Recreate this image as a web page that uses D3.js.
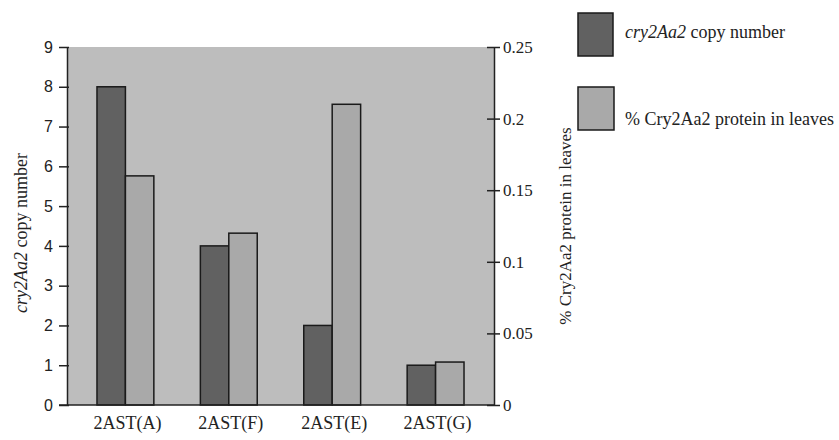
<!DOCTYPE html>
<html>
<head>
<meta charset="utf-8">
<script src="https://cdn.jsdelivr.net/npm/d3@7"></script>
<style>
  body { margin: 0; background: #fff; }
  svg { display: block; }
</style>
</head>
<body>
<div id="chart"></div>
<script>
const lines = ['2AST(A)', '2AST(F)', '2AST(E)', '2AST(G)'];
const copyNumber = [8, 4, 2, 1];
const proteinPct = [0.16, 0.12, 0.21, 0.03];
const leftTicks = [0, 1, 2, 3, 4, 5, 6, 7, 8, 9];
const rightTicks = [0, 0.05, 0.1, 0.15, 0.2, 0.25];

const width = 839, height = 440;
const margin = { top: 47, right: 345, bottom: 35, left: 67 };
const darkFill = '#616161', lightFill = '#a9a9a9', bgFill = '#bdbdbd';
const serif = '"Liberation Serif", "Times New Roman", serif';

const svg = d3.select('#chart').append('svg')
  .attr('width', width)
  .attr('height', height);

const x = d3.scaleBand()
  .domain(lines)
  .range([margin.left, width - margin.right])
  .paddingInner(0.45)
  .paddingOuter(0.29);

const sub = d3.scaleBand()
  .domain(['copy', 'pct'])
  .range([0, x.bandwidth()]);

const yL = d3.scaleLinear()
  .domain([0, 9])
  .range([height - margin.bottom, margin.top]);

const yR = d3.scaleLinear()
  .domain([0, 0.25])
  .range([height - margin.bottom, margin.top]);

// plot background
svg.append('rect')
  .attr('x', margin.left)
  .attr('y', margin.top)
  .attr('width', width - margin.right - margin.left)
  .attr('height', height - margin.bottom - margin.top)
  .attr('fill', bgFill);

// bars
const g = svg.append('g');
lines.forEach((d, i) => {
  g.append('rect')
    .attr('x', x(d) + sub('copy'))
    .attr('y', yL(copyNumber[i]))
    .attr('width', sub.bandwidth())
    .attr('height', yL(0) - yL(copyNumber[i]))
    .attr('fill', darkFill)
    .attr('stroke', '#1a1a1a')
    .attr('stroke-width', 1.5);
  g.append('rect')
    .attr('x', x(d) + sub('pct'))
    .attr('y', yR(proteinPct[i]))
    .attr('width', sub.bandwidth())
    .attr('height', yR(0) - yR(proteinPct[i]))
    .attr('fill', lightFill)
    .attr('stroke', '#1a1a1a')
    .attr('stroke-width', 1.5);
});

// left axis
const leftAxis = svg.append('g')
  .attr('transform', `translate(${margin.left},0)`)
  .call(d3.axisLeft(yL).tickValues(leftTicks).tickSize(8).tickSizeOuter(0).tickPadding(6));
leftAxis.select('.domain').attr('stroke', '#222').attr('stroke-width', 1.5);
leftAxis.selectAll('.tick line').attr('stroke', '#222').attr('stroke-width', 1.5).attr('x2', -8).attr('x1', 2);
leftAxis.selectAll('.tick text')
  .style('font-family', '"Liberation Sans", Arial, sans-serif')
  .style('font-size', '16px')
  .attr('fill', '#222');

// right axis
const rightAxis = svg.append('g')
  .attr('transform', `translate(${width - margin.right},0)`)
  .call(d3.axisRight(yR).tickValues(rightTicks).tickSize(6).tickSizeOuter(0).tickPadding(3)
    .tickFormat(d => d === 0 ? '0' : d3.format('')(+d.toFixed(2))));
rightAxis.select('.domain').attr('stroke', '#222').attr('stroke-width', 1.5);
rightAxis.selectAll('.tick line').attr('stroke', '#222').attr('stroke-width', 1.5).attr('x1', -7).attr('x2', 6);
rightAxis.selectAll('.tick text')
  .style('font-family', serif)
  .style('font-size', '17px')
  .attr('fill', '#222');

// bottom baseline
svg.append('line')
  .attr('x1', margin.left - 8)
  .attr('x2', width - margin.right)
  .attr('y1', yL(0))
  .attr('y2', yL(0))
  .attr('stroke', '#222')
  .attr('stroke-width', 1.5);

// x labels
svg.append('g').selectAll('text')
  .data(lines)
  .enter()
  .append('text')
  .attr('x', d => x(d) + x.bandwidth() / 2 + 2)
  .attr('y', 429)
  .attr('text-anchor', 'middle')
  .style('font-family', serif)
  .style('font-size', '18px')
  .attr('fill', '#222')
  .text(d => d);

// left title
const lt = svg.append('text')
  .attr('transform', `translate(27,${(margin.top + height - margin.bottom) / 2 + 7}) rotate(-90)`)
  .attr('text-anchor', 'middle')
  .style('font-family', serif)
  .style('font-size', '18px')
  .attr('fill', '#222');
lt.append('tspan').style('font-style', 'italic').text('cry2Aa2');
lt.append('tspan').text(' copy number');

// right title
svg.append('text')
  .attr('transform', `translate(571,${(margin.top + height - margin.bottom) / 2}) rotate(-90)`)
  .attr('text-anchor', 'middle')
  .style('font-family', serif)
  .style('font-size', '17px')
  .attr('fill', '#222')
  .text('% Cry2Aa2 protein in leaves');

// legend
const legend = svg.append('g').attr('transform', 'translate(578,0)');
legend.append('rect')
  .attr('x', 0).attr('y', 13).attr('width', 35).attr('height', 43)
  .attr('fill', darkFill).attr('stroke', '#1a1a1a').attr('stroke-width', 1.5);
legend.append('rect')
  .attr('x', 0).attr('y', 87).attr('width', 36).attr('height', 43)
  .attr('fill', lightFill).attr('stroke', '#1a1a1a').attr('stroke-width', 1.5);
const l1 = legend.append('text')
  .attr('x', 47).attr('y', 38)
  .style('font-family', serif)
  .style('font-size', '18px')
  .attr('fill', '#222');
l1.append('tspan').style('font-style', 'italic').text('cry2Aa2');
l1.append('tspan').text(' copy number');
legend.append('text')
  .attr('x', 47).attr('y', 125)
  .style('font-family', serif)
  .style('font-size', '18px')
  .attr('fill', '#222')
  .text('% Cry2Aa2 protein in leaves');
</script>
</body>
</html>
